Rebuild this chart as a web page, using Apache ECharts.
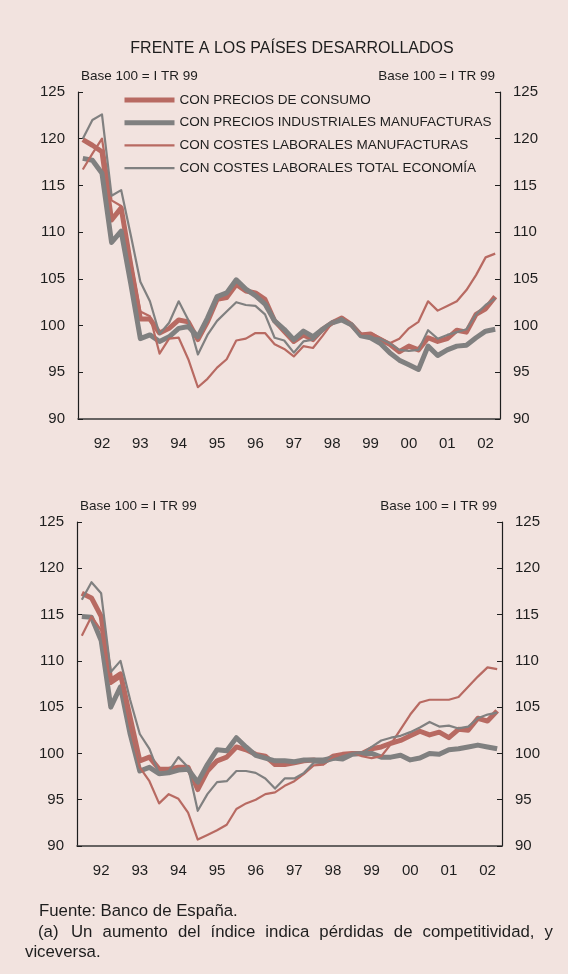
<!DOCTYPE html>
<html>
<head>
<meta charset="utf-8">
<script src="https://cdn.jsdelivr.net/npm/echarts@6/dist/echarts.min.js"></script>
<style>
  html, body { margin: 0; padding: 0; background: #f2e3df; }
  #chart { width: 568px; height: 974px; }
</style>
</head>
<body>
<div id="chart"></div>
<script>
  const years = ['92', '93', '94', '95', '96', '97', '98', '99', '00', '01', '02'];
  const quarters = ['I', 'II', 'III', 'IV'];
  const categories = years.flatMap((y) => quarters.map((q) => q + ' TR ' + y));

  const seriesNames = [
    'CON PRECIOS DE CONSUMO',
    'CON PRECIOS INDUSTRIALES MANUFACTURAS',
    'CON COSTES LABORALES MANUFACTURAS',
    'CON COSTES LABORALES TOTAL ECONOMÍA'
  ];

  // frente a los países desarrollados
  const topConsumo = [
    119.9, 119.3, 118.6, 111.3, 112.6, 106.5, 100.7, 100.7, 99.2, 99.7, 100.6,
    100.4, 98.5, 100.4, 102.8, 103.0, 104.4, 103.7, 103.5, 102.8, 100.5, 99.4,
    98.3, 99.0, 98.5, 99.6, 100.3, 100.8, 100.1, 99.0, 99.1, 98.5, 98.0,
    97.2, 97.8, 97.4, 98.7, 98.3, 98.6, 99.5, 99.3, 101.2, 101.8, 103.1
  ];
  const topIndustriales = [
    117.9, 117.7, 116.3, 108.9, 110.1, 104.5, 98.6, 99.0, 98.3, 98.8, 99.7,
    99.9, 98.8, 100.8, 103.1, 103.5, 104.9, 103.9, 103.2, 102.3, 100.5, 99.6,
    98.5, 99.4, 98.8, 99.6, 100.3, 100.6, 100.1, 98.9, 98.7, 98.1, 97.1,
    96.3, 95.8, 95.3, 97.8, 96.8, 97.4, 97.8, 97.9, 98.7, 99.4, 99.6
  ];
  const topCostesManuf = [
    116.7, 118.4, 120.0, 113.4, 112.8, 107.0, 101.5, 101.0, 97.0, 98.6, 98.7,
    96.4, 93.4, 94.3, 95.5, 96.4, 98.4, 98.6, 99.2, 99.2, 98.0, 97.5,
    96.7, 97.8, 97.6, 98.9, 100.3, 100.9, 100.1, 99.1, 99.2, 98.7, 98.1,
    98.6, 99.7, 100.4, 102.6, 101.6, 102.1, 102.6, 103.8, 105.4, 107.3, 107.7
  ];
  const topCostesTotal = [
    120.0, 122.0, 122.6, 113.9, 114.5, 109.7, 104.7, 102.6, 99.1, 100.3, 102.6,
    100.6, 96.9, 99.0, 100.5, 101.5, 102.5, 102.2, 102.1, 101.2, 98.7, 98.4,
    97.1, 98.3, 98.5, 99.4, 100.3, 100.8, 100.1, 98.9, 98.7, 98.6, 98.1,
    97.4, 97.3, 97.4, 99.5, 98.6, 99.0, 99.3, 99.6, 101.2, 102.2, 102.9
  ];

  // segundo panel
  const bottomConsumo = [
    117.3, 116.8, 114.8, 107.9, 108.6, 103.9, 99.2, 99.6, 98.3, 98.3, 98.5,
    98.5, 96.1, 98.1, 99.2, 99.6, 100.7, 100.4, 99.9, 99.7, 98.8, 98.8,
    99.0, 99.2, 99.3, 99.0, 99.7, 99.9, 100.0, 100.0, 100.5, 100.7, 101.1,
    101.4, 101.9, 102.4, 102.0, 102.3, 101.7, 102.6, 102.5, 103.8, 103.5, 104.6
  ];
  const bottomIndustriales = [
    114.8, 114.7, 112.2, 105.0, 107.2, 102.1, 98.1, 98.5, 97.8, 97.9, 98.2,
    98.3, 96.9, 98.8, 100.4, 100.3, 101.7, 100.7, 99.8, 99.5, 99.2, 99.2,
    99.1, 99.3, 99.3, 99.3, 99.5, 99.4, 99.9, 100.0, 100.0, 99.6, 99.6,
    99.8, 99.3, 99.5, 100.0, 99.9, 100.4, 100.5, 100.7, 100.9, 100.7, 100.5
  ];
  const bottomCostesManuf = [
    112.7, 114.8, 113.3, 107.5, 108.2, 102.8, 98.5, 97.0, 94.6, 95.6, 95.1,
    93.6, 90.7, 91.2, 91.7, 92.3, 94.0, 94.6, 95.0, 95.6, 95.8, 96.5,
    97.0, 97.8, 98.7, 98.8, 99.6, 99.9, 100.1, 99.7, 99.5, 99.7, 101.0,
    102.6, 104.2, 105.5, 105.8, 105.8, 105.8, 106.1, 107.2, 108.3, 109.3, 109.1
  ];
  const bottomCostesTotal = [
    116.6, 118.5, 117.3, 108.8, 110.0, 105.8, 102.1, 100.5, 97.8, 98.1, 99.6,
    98.5, 93.8, 95.6, 96.9, 97.0, 98.1, 98.1, 97.9, 97.3, 96.2, 97.3,
    97.3, 97.9, 99.0, 99.0, 99.3, 99.7, 100.0, 100.0, 100.7, 101.4, 101.7,
    101.9, 102.3, 102.8, 103.4, 102.9, 103.0, 102.7, 102.9, 103.8, 104.2, 104.4
  ];

  const baseLabel = 'Base 100 = I TR 99';
  const titleText = 'FRENTE A LOS PAÍSES DESARROLLADOS';
  const sourceText = 'Fuente: Banco de España.';
  const noteMark = '(a)';
  const noteText = 'Un aumento del índice indica pérdidas de competitividad, y';
  const noteTail = 'viceversa.';

  const BROWN = '#b86a62';
  const GREY = '#808080';
  const INK = '#1e1e1e';
  const FONT = '"Liberation Sans", Arial, sans-serif';

  const chart = echarts.init(document.getElementById('chart'));

  function xAxisFor(gridIndex) {
    return {
      type: 'category',
      gridIndex: gridIndex,
      data: categories,
      boundaryGap: true,
      axisLine: { lineStyle: { color: '#3a3a3a', width: 1.5 } },
      axisTick: {
        inside: true,
        length: 4,
        interval: (i) => i % 4 === 0,
        lineStyle: { color: '#3a3a3a' }
      },
      axisLabel: {
        interval: (i) => i % 4 === 2,
        formatter: (v) => v.slice(-2),
        margin: 17,
        fontSize: 15,
        color: INK,
        fontFamily: FONT
      },
      splitLine: { show: false }
    };
  }

  function yAxisFor(gridIndex, side) {
    return {
      type: 'value',
      gridIndex: gridIndex,
      position: side,
      min: 90,
      max: 125,
      interval: 5,
      name: baseLabel,
      nameLocation: 'end',
      nameGap: 9,
      nameTextStyle: {
        fontSize: 13.5,
        color: INK,
        fontFamily: FONT,
        align: side === 'left' ? 'left' : 'right',
        padding: side === 'left' ? [0, 0, 0, 3] : [0, 5, 0, 0]
      },
      axisLine: { show: true, lineStyle: { color: INK, width: 1.2 } },
      axisTick: { show: true, inside: true, length: 5, lineStyle: { color: INK } },
      axisLabel: { margin: 13, fontSize: 15, color: INK, fontFamily: FONT },
      splitLine: { show: false }
    };
  }

  function lineSeries(name, data, color, width, axisIdx) {
    return {
      name: name,
      type: 'line',
      data: data,
      xAxisIndex: axisIdx,
      yAxisIndex: axisIdx * 2,
      symbol: 'none',
      animation: false,
      lineStyle: { color: color, width: width, join: 'round' },
      itemStyle: { color: color }
    };
  }

  // nota (a): primera línea justificada
  const measure = document.createElement('canvas').getContext('2d');
  const noteFont = '16.8px ' + FONT;
  measure.font = noteFont;
  const words = noteText.split(' ');
  const lineLeft = 71, lineRight = 553;
  const wordsWidth = words.reduce((s, w) => s + measure.measureText(w).width, 0);
  const gap = (lineRight - lineLeft - wordsWidth) / (words.length - 1);
  let cursor = lineLeft;
  const noteWordEls = words.map((w) => {
    const el = { type: 'text', left: cursor, top: 924,
      style: { text: w, font: noteFont, fill: INK } };
    cursor += measure.measureText(w).width + gap;
    return el;
  });

  const option = {
    backgroundColor: '#f2e3df',
    animation: false,
    textStyle: { fontFamily: FONT },
    title: {
      text: titleText,
      left: 287,
      textAlign: 'center',
      top: 36,
      textStyle: { fontSize: 16, fontWeight: 'normal', color: INK, fontFamily: FONT }
    },
    legend: {
      data: seriesNames,
      orient: 'vertical',
      left: 117,
      top: 88,
      itemWidth: 50,
      itemHeight: 14,
      itemGap: 8.7,
      itemStyle: { opacity: 0 },
      lineStyle: { width: 'inherit' },
      textStyle: { fontSize: 13.5, color: INK, fontFamily: FONT },
      selectedMode: false
    },
    grid: [
      { left: 78, right: 68, top: 92, height: 327 },
      { left: 77, right: 66, top: 522, height: 324 }
    ],
    xAxis: [xAxisFor(0), xAxisFor(1)],
    yAxis: [yAxisFor(0, 'left'), yAxisFor(0, 'right'), yAxisFor(1, 'left'), yAxisFor(1, 'right')],
    series: [
      lineSeries(seriesNames[0], topConsumo, BROWN, 5, 0),
      lineSeries(seriesNames[1], topIndustriales, GREY, 5, 0),
      lineSeries(seriesNames[2], topCostesManuf, BROWN, 2.2, 0),
      lineSeries(seriesNames[3], topCostesTotal, GREY, 2.2, 0),
      lineSeries(seriesNames[0], bottomConsumo, BROWN, 5, 1),
      lineSeries(seriesNames[1], bottomIndustriales, GREY, 5, 1),
      lineSeries(seriesNames[2], bottomCostesManuf, BROWN, 2.2, 1),
      lineSeries(seriesNames[3], bottomCostesTotal, GREY, 2.2, 1)
    ],
    graphic: [
      { type: 'text', left: 39, top: 903, style: { text: sourceText, font: noteFont, fill: INK } },
      { type: 'text', left: 38, top: 924, style: { text: noteMark, font: noteFont, fill: INK } },
      ...noteWordEls,
      { type: 'text', left: 25, top: 944, style: { text: noteTail, font: noteFont, fill: INK } }
    ]
  };

  chart.setOption(option);
</script>
</body>
</html>
